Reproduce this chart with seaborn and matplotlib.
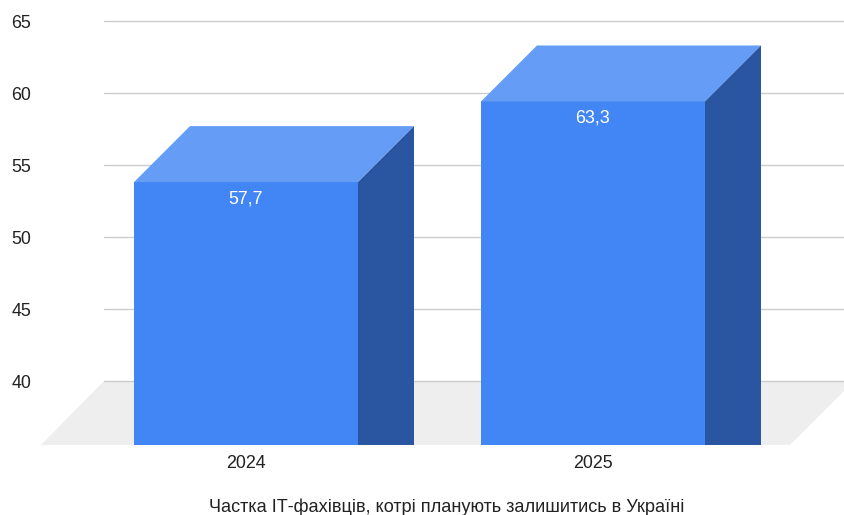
import matplotlib
matplotlib.use("Agg")
import matplotlib.pyplot as plt
from matplotlib.patches import Polygon
from matplotlib.transforms import IdentityTransform
import pandas as pd
import seaborn as sns

years = ["2024", "2025"]
shares = [57.7, 63.3]
value_labels = ["57,7", "63,3"]
y_ticks = [40, 45, 50, 55, 60, 65]
axis_title = "Частка ІТ-фахівців, котрі планують залишитись в Україні"

W, H = 844, 515
FS = 12.9
INK = "#222222"
FRONT, TOP, SIDE = "#4285f4", "#659cf6", "#2a55a0"
DEPTH = 56
PX = 14.4  # pixels per value unit

sns.set_theme(style="white")
plt.rcParams["font.family"] = ["Liberation Sans", "DejaVu Sans"]
fig = plt.figure(figsize=(W / 100, H / 100), dpi=100, facecolor="white")


def rect(l, top, r, bottom):
    return [l / W, 1 - bottom / H, (r - l) / W, (bottom - top) / H]


def fig_xy(x, y):
    return (x / W, 1 - y / H)


# back wall: gridlines and value axis
back = fig.add_axes(rect(104, 21, 844, 381), facecolor="none")
back.set_ylim(y_ticks[0], y_ticks[-1])
back.set_xlim(0, 1)
back.set_yticks(y_ticks)
back.set_xticks([])
back.grid(axis="y", color="#cccccc", lw=1.0)
back.tick_params(axis="y", length=0, pad=52.5, labelsize=FS, labelcolor=INK)
sns.despine(ax=back, left=True, bottom=True, top=True, right=True)
for gl in back.get_ygridlines():
    gl.set_clip_on(False)
for tick in back.yaxis.get_major_ticks():
    tick.label1.set_verticalalignment("center_baseline")

# floor
fig.add_artist(Polygon([fig_xy(104, 381), fig_xy(854, 381), fig_xy(790, 445), fig_xy(41, 445)],
                       closed=True, transform=fig.transFigure, fc="#eeeeee", ec="none", zorder=0.5))
back.set_zorder(1)

# front plane: bars through seaborn
front = fig.add_axes(rect(0, 0, W, 445), facecolor="none")
front.set_zorder(2)
df = pd.DataFrame({"year": years, "share": shares})
sns.barplot(data=df, x="year", y="share", ax=front, color=FRONT, saturation=1, width=224 / 347,
            order=years, edgecolor="none", linewidth=0)
# 0 on the category axis sits at the front bar centre
px_per_cat = 347
front.set_xlim(-246 / px_per_cat, (W - 246) / px_per_cat)
bottom_value = y_ticks[0] - (445 - DEPTH - (21 + PX * (y_ticks[-1] - y_ticks[0]))) / PX
front.set_ylim(bottom_value, bottom_value + 445 / PX)
front.set_xlabel("")
front.set_ylabel("")
front.set_yticks([])
front.tick_params(axis="x", length=0, pad=7.5, labelsize=FS, labelcolor=INK)
sns.despine(ax=front, left=True, bottom=True, top=True, right=True)
fig.text(447 / W, 1 - 507.5 / H, axis_title, fontsize=13.1, color=INK, ha="center", va="center")

fig.canvas.draw()
ident = IdentityTransform()
for bar, lab in zip(front.patches, value_labels):
    x, y = bar.get_x(), bar.get_height()
    w = bar.get_width()
    (x0, y1), (x1, _) = front.transData.transform([(x, y), (x + w, y)])
    y0 = front.get_window_extent().y0
    front.add_patch(Polygon([(x0, y1), (x1, y1), (x1 + DEPTH, y1 + DEPTH), (x0 + DEPTH, y1 + DEPTH)],
                            closed=True, transform=ident, fc=TOP, ec="none", clip_on=False, zorder=3))
    front.add_patch(Polygon([(x1, y1), (x1 + DEPTH, y1 + DEPTH), (x1 + DEPTH, y0), (x1, y0)],
                            closed=True, transform=ident, fc=SIDE, ec="none", clip_on=False, zorder=3))
    front.annotate(lab, (x + w / 2, y), xytext=(0, -17), textcoords="offset pixels", ha="center",
                   va="center", color="white", fontsize=FS, zorder=4)

fig.savefig("out.png", dpi=100)
